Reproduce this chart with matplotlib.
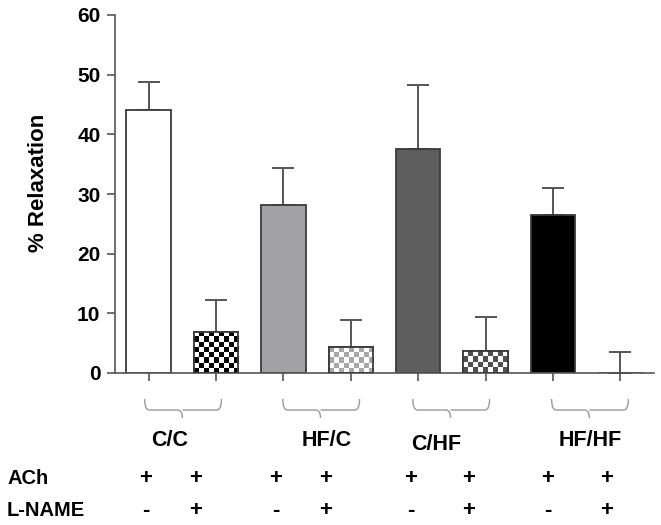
import numpy as np
import matplotlib
matplotlib.use("Agg")
import matplotlib.pyplot as plt
from matplotlib.path import Path
from matplotlib.patches import PathPatch
from matplotlib import font_manager

# ---------------- data ----------------
groups = ["C/C", "HF/C", "C/HF", "HF/HF"]
values = [44.1, 6.9, 28.1, 4.3, 37.5, 3.7, 26.4, 0.0]
errors = [4.7, 5.3, 6.3, 4.5, 10.7, 5.7, 4.6, 3.6]
ach_row = ["+", "+", "+", "+", "+", "+", "+", "+"]
lname_row = ["-", "+", "-", "+", "-", "+", "-", "+"]
row_labels = ["ACh", "L-NAME"]
yticks = [0, 10, 20, 30, 40, 50, 60]
ylabel = "% Relaxation"

# ---------------- style ----------------
face_colors = ["white", "white", "#a2a2a6", "white", "#5e5e5e", "white", "#000000", "white"]
checker_colors = [None, "#000000", None, "#a8a8a8", None, "#505050", None, None]

names = {f.name for f in font_manager.fontManager.ttflist}
FONT = "Liberation Sans" if "Liberation Sans" in names else "DejaVu Sans"
plt.rcParams["font.family"] = [FONT, "DejaVu Sans"]
plt.rcParams["font.weight"] = "bold"

W, H = 661, 525
fig = plt.figure(figsize=(W / 100, H / 100), dpi=100)
ax_l, ax_r, ax_t, ax_b = 115, 654, 15, 373
ax = fig.add_axes([ax_l / W, 1 - ax_b / H, (ax_r - ax_l) / W, (ax_b - ax_t) / H])

x = np.arange(len(values))
bw = 0.66
ax.set_xlim(-0.5, len(values) - 0.5)
ax.set_ylim(0, 60)

edge = "#3a3a3a"
bars = ax.bar(x, values, width=bw, color=face_colors, edgecolor=edge, linewidth=1.3, zorder=2)

# checker pattern bars
cell_px = 5.0
for i, (b, cc) in enumerate(zip(bars, checker_colors)):
    if cc is None or values[i] <= 0:
        continue
    x0, x1 = x[i] - bw / 2, x[i] + bw / 2
    p0 = ax.transData.transform((x0, 0))
    p1 = ax.transData.transform((x1, values[i]))
    ncol = max(1, int(round((p1[0] - p0[0]) / cell_px)))
    nrow = max(1, int(round((p1[1] - p0[1]) / cell_px)))
    rr, cc_ = np.mgrid[0:nrow, 0:ncol]
    mask = ((rr + cc_) % 2 == 0)
    rgb_dark = np.array(matplotlib.colors.to_rgb(cc))
    img = np.ones((nrow, ncol, 3))
    img[mask] = rgb_dark
    im = ax.imshow(img, extent=(x0, x1, 0, values[i]), aspect="auto",
                   interpolation="nearest", zorder=2.5, origin="lower")
    im.set_clip_path(b)
    ax.bar(x[i], values[i], width=bw, facecolor="none", edgecolor=edge, linewidth=1.3, zorder=3)

ax.set_xlim(-0.5, len(values) - 0.5)
ax.set_ylim(0, 60)

# error bars (upper only)
ax.errorbar(x, values, yerr=[np.zeros(len(values)), errors], fmt="none",
            ecolor="#555555", elinewidth=1.4, capsize=8, capthick=1.4, zorder=1)

# axes styling
for s in ["top", "right"]:
    ax.spines[s].set_visible(False)
for s in ["left", "bottom"]:
    ax.spines[s].set_color("#555555")
    ax.spines[s].set_linewidth(1.2)
ax.set_yticks(yticks)
ax.set_yticklabels([str(t) for t in yticks], fontsize=15, fontweight="bold")
ax.set_xticks(x)
ax.set_xticklabels([])
ax.tick_params(axis="both", direction="out", length=5.5, width=1.2, color="#555555")
ax.tick_params(axis="y", pad=5)
ax.set_ylabel(ylabel, fontsize=16, fontweight="bold")
ax.yaxis.set_label_coords(-(ax_l - 38) / (ax_r - ax_l), (ax_b - 183) / (ax_b - ax_t))
ax.yaxis.label.set_va("center")

# ------------- annotations below the axis -------------
def yax(py):
    """pixel-from-top -> axes fraction"""
    return (ax_b - py) / (ax_b - ax_t)

trans = ax.get_xaxis_transform()
brace_left = [-0.06, 1.99, 3.92, 5.98]
brace_right = [1.08, 3.13, 5.06, 7.12]
brace_tip = [0.50, 2.55, 4.48, 6.54]
label_x = [0.31, 2.64, 4.27, 6.56]
label_y = [441, 441, 444, 441]
y_top, y_mid, y_tip = yax(399), yax(410), yax(418)
for g in range(len(groups)):
    L, R, T = brace_left[g], brace_right[g], brace_tip[g]
    r = 0.07
    verts = [(L, y_top), (L, y_mid), (L + r, y_mid), (T - r, y_mid), (T, y_mid), (T, y_tip),
             (T, y_mid), (T + r, y_mid), (R - r, y_mid), (R, y_mid), (R, y_top)]
    codes = [Path.MOVETO, Path.CURVE3, Path.CURVE3, Path.LINETO, Path.CURVE3, Path.CURVE3,
             Path.MOVETO, Path.CURVE3, Path.LINETO, Path.CURVE3, Path.CURVE3]
    pp = PathPatch(Path(verts, codes), transform=trans, fill=False,
                   edgecolor="#9a9a9a", linewidth=1.0, clip_on=False)
    ax.add_patch(pp)
    ax.text(label_x[g], yax(label_y[g]), groups[g], transform=trans, ha="center", va="center",
            fontsize=15.5, fontweight="bold", clip_on=False)

sign_x = [-0.04, 0.70, 1.89, 2.63, 3.89, 4.75, 5.92, 6.80]
for i in range(len(values)):
    ax.text(sign_x[i], yax(478), ach_row[i], transform=trans, ha="center", va="center",
            fontsize=16, fontweight="bold", clip_on=False)
    ax.text(sign_x[i], yax(510), lname_row[i], transform=trans, ha="center", va="center",
            fontsize=16, fontweight="bold", clip_on=False)

for k, py in enumerate([478, 510]):
    fig.text(7 / W, 1 - py / H, row_labels[k], ha="left", va="center",
             fontsize=14.5, fontweight="bold")

fig.savefig("out.png", dpi=100)
